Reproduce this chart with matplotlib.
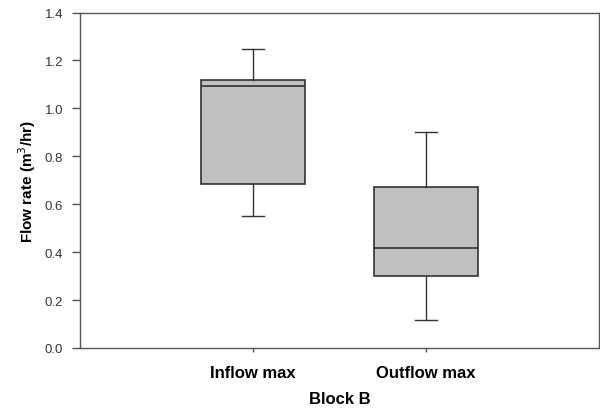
import matplotlib
matplotlib.use("Agg")
import matplotlib.pyplot as plt

plt.rcParams['font.family'] = ['Liberation Sans', 'DejaVu Sans']

groups = ["Inflow max", "Outflow max"]
whisker_low = [0.55, 0.116]
q1 = [0.683, 0.300]
median = [1.095, 0.417]
q3 = [1.118, 0.670]
whisker_high = [1.247, 0.900]

stats = []
for i, name in enumerate(groups):
    stats.append({
        "label": name,
        "whislo": whisker_low[i],
        "q1": q1[i],
        "med": median[i],
        "q3": q3[i],
        "whishi": whisker_high[i],
        "fliers": [],
    })

fig = plt.figure(figsize=(6, 4.1), dpi=100)
ax = fig.add_axes([80 / 600, 61 / 410, 519 / 600, 335.5 / 410])

edge = "#333333"
ax.bxp(stats, positions=[1, 2], widths=0.6, patch_artist=True,
       showfliers=False,
       boxprops=dict(facecolor="#c0c0c0", edgecolor=edge, linewidth=1.2),
       medianprops=dict(color=edge, linewidth=1.2),
       whiskerprops=dict(color=edge, linewidth=1.0),
       capprops=dict(color=edge, linewidth=1.0),
       capwidths=0.125)

ax.set_xlim(0, 3)
ax.set_ylim(0, 1.4)
ax.set_yticks([0.0, 0.2, 0.4, 0.6, 0.8, 1.0, 1.2, 1.4])
ax.set_yticklabels([f"{v:.1f}" for v in ax.get_yticks()])
ax.set_xticks([1, 2])
ax.set_xticklabels(groups, fontsize=12, fontweight="bold")

for side in ["left", "bottom", "top", "right"]:
    ax.spines[side].set_color("#555555")
    ax.spines[side].set_linewidth(1.0)

ax.tick_params(axis="y", direction="out", length=6, width=1, color="#555555",
               labelsize=9.5, labelcolor="#333333", pad=6)
ax.tick_params(axis="x", direction="out", length=3, width=1, color="#555555",
               pad=9)

ax.set_ylabel("Flow rate (m$^3$/hr)", fontsize=11, fontweight="bold", labelpad=5)
ax.set_xlabel("Block B", fontsize=12, fontweight="bold", labelpad=8)

fig.savefig("out.png", dpi=100)
